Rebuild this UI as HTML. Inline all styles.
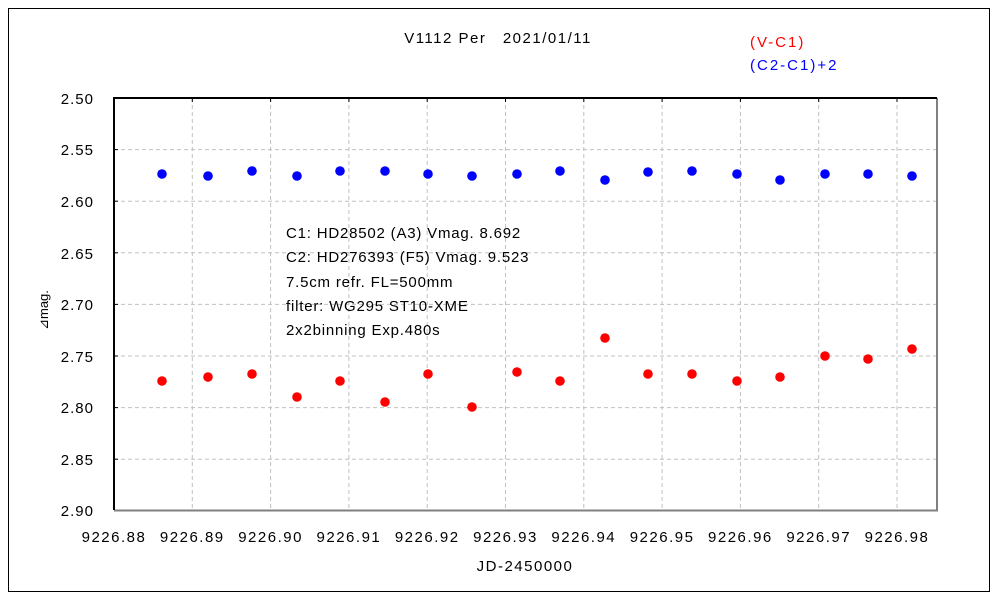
<!DOCTYPE html><html><head><style>body{margin:0;background:#fff}svg{display:block}text{font-family:"Liberation Sans",sans-serif;font-size:15px;fill:#000}</style></head><body>
<svg width="1000" height="600" xmlns="http://www.w3.org/2000/svg">
<rect x="0" y="0" width="1000" height="600" fill="#fff"/>
<path d="M8.5,592 V8.5 H989.5 V591.5 H8" stroke="#000" fill="none"/>
<g stroke="#c0c0c0" stroke-dasharray="4,3">
<line x1="114" x2="937" y1="149.6" y2="149.6"/><line x1="114" x2="937" y1="201.2" y2="201.2"/><line x1="114" x2="937" y1="252.8" y2="252.8"/><line x1="114" x2="937" y1="304.4" y2="304.4"/><line x1="114" x2="937" y1="356" y2="356"/><line x1="114" x2="937" y1="407.6" y2="407.6"/><line x1="114" x2="937" y1="459.2" y2="459.2"/>
<line y1="98" y2="510" x1="192.3" x2="192.3"/><line y1="98" y2="510" x1="270.6" x2="270.6"/><line y1="98" y2="510" x1="348.9" x2="348.9"/><line y1="98" y2="510" x1="427.2" x2="427.2"/><line y1="98" y2="510" x1="505.5" x2="505.5"/><line y1="98" y2="510" x1="583.8" x2="583.8"/><line y1="98" y2="510" x1="662.1" x2="662.1"/><line y1="98" y2="510" x1="740.4" x2="740.4"/><line y1="98" y2="510" x1="818.7" x2="818.7"/><line y1="98" y2="510" x1="897" x2="897"/>
</g>
<path d="M114,510.5 H937 V98" stroke="#808080" stroke-width="2" fill="none"/>
<path d="M114,510 V98 H937" stroke="#000" stroke-width="2" fill="none"/>
<g stroke="#000"><line x1="114" x2="118" y1="149.6" y2="149.6"/><line x1="114" x2="118" y1="201.2" y2="201.2"/><line x1="114" x2="118" y1="252.8" y2="252.8"/><line x1="114" x2="118" y1="304.4" y2="304.4"/><line x1="114" x2="118" y1="356" y2="356"/><line x1="114" x2="118" y1="407.6" y2="407.6"/><line x1="114" x2="118" y1="459.2" y2="459.2"/>
<line y1="98" y2="102" x1="192.3" x2="192.3"/><line y1="98" y2="102" x1="270.6" x2="270.6"/><line y1="98" y2="102" x1="348.9" x2="348.9"/><line y1="98" y2="102" x1="427.2" x2="427.2"/><line y1="98" y2="102" x1="505.5" x2="505.5"/><line y1="98" y2="102" x1="583.8" x2="583.8"/><line y1="98" y2="102" x1="662.1" x2="662.1"/><line y1="98" y2="102" x1="740.4" x2="740.4"/><line y1="98" y2="102" x1="818.7" x2="818.7"/><line y1="98" y2="102" x1="897" x2="897"/></g>
<g text-anchor="end" style="font-size:16px;letter-spacing:1px"><text x="94" y="104">2.50</text><text x="94" y="155">2.55</text><text x="94" y="207">2.60</text><text x="94" y="259">2.65</text><text x="94" y="310">2.70</text><text x="94" y="362">2.75</text><text x="94" y="413">2.80</text><text x="94" y="465">2.85</text><text x="94" y="516">2.90</text></g>
<g text-anchor="middle" style="font-size:16px;letter-spacing:1.5px"><text x="114" y="542">9226.88</text><text x="192.3" y="542">9226.89</text><text x="270.6" y="542">9226.90</text><text x="348.9" y="542">9226.91</text><text x="427.2" y="542">9226.92</text><text x="505.5" y="542">9226.93</text><text x="583.8" y="542">9226.94</text><text x="662.1" y="542">9226.95</text><text x="740.4" y="542">9226.96</text><text x="818.7" y="542">9226.97</text><text x="897" y="542">9226.98</text>
<text x="525" y="571">JD-2450000</text><text x="498" y="43">V1112 Per　2021/01/11</text></g>
<text x="0" y="0" transform="translate(48,310) rotate(-90)" text-anchor="middle" style="font-size:13px">⊿mag.</text>
<g style="font-size:16px;letter-spacing:2px"><text x="750" y="47" style="fill:#f00">(V-C1)</text><text x="750" y="70" style="fill:#00f">(C2-C1)+2</text></g>
<g style="font-size:15px;letter-spacing:0.8px"><text x="286" y="238">C1: HD28502 (A3) Vmag. 8.692</text><text x="286" y="262">C2: HD276393 (F5) Vmag. 9.523</text><text x="286" y="287">7.5cm refr. FL=500mm</text><text x="286" y="311">filter: WG295  ST10-XME</text><text x="286" y="335">2x2binning  Exp.480s</text></g>
<g fill="#00f"><circle cx="162" cy="174" r="4.8"/><circle cx="208" cy="176" r="4.8"/><circle cx="252" cy="171" r="4.8"/><circle cx="297" cy="176" r="4.8"/><circle cx="340" cy="171" r="4.8"/><circle cx="385" cy="171" r="4.8"/><circle cx="428" cy="174" r="4.8"/><circle cx="472" cy="176" r="4.8"/><circle cx="517" cy="174" r="4.8"/><circle cx="560" cy="171" r="4.8"/><circle cx="605" cy="180" r="4.8"/><circle cx="648" cy="172" r="4.8"/><circle cx="692" cy="171" r="4.8"/><circle cx="737" cy="174" r="4.8"/><circle cx="780" cy="180" r="4.8"/><circle cx="825" cy="174" r="4.8"/><circle cx="868" cy="174" r="4.8"/><circle cx="912" cy="176" r="4.8"/></g>
<g fill="#f00"><circle cx="162" cy="381" r="4.8"/><circle cx="208" cy="377" r="4.8"/><circle cx="252" cy="374" r="4.8"/><circle cx="297" cy="397" r="4.8"/><circle cx="340" cy="381" r="4.8"/><circle cx="385" cy="402" r="4.8"/><circle cx="428" cy="374" r="4.8"/><circle cx="472" cy="407" r="4.8"/><circle cx="517" cy="372" r="4.8"/><circle cx="560" cy="381" r="4.8"/><circle cx="605" cy="338" r="4.8"/><circle cx="648" cy="374" r="4.8"/><circle cx="692" cy="374" r="4.8"/><circle cx="737" cy="381" r="4.8"/><circle cx="780" cy="377" r="4.8"/><circle cx="825" cy="356" r="4.8"/><circle cx="868" cy="359" r="4.8"/><circle cx="912" cy="349" r="4.8"/></g>
</svg></body></html>
